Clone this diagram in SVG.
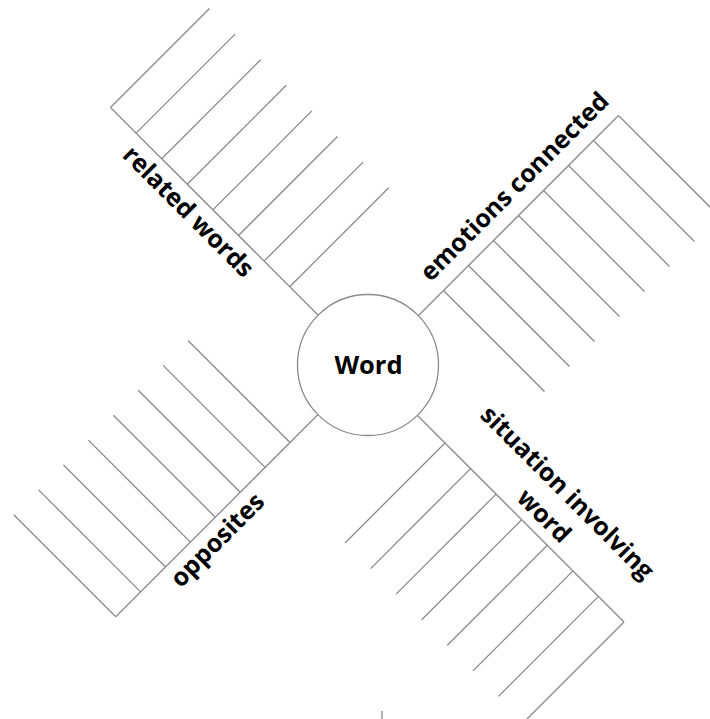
<svg xmlns="http://www.w3.org/2000/svg" width="710" height="719" viewBox="0 0 710 719">
<style>
.ln{stroke:#8a8a8a;stroke-width:1.3;fill:none;stroke-linecap:butt}
.lbl{font-family:"Open Sans","Liberation Sans",sans-serif;font-weight:bold;font-size:25px;fill:#000;text-anchor:middle}
.ctr{font-family:"Open Sans","Liberation Sans",sans-serif;font-weight:bold;font-size:25.5px;fill:#000;text-anchor:middle}
</style>
<rect width="710" height="719" fill="#fff"/>
<g id="connectors">
<g id="branch-related">
<line class="ln" x1="110.5" y1="107.5" x2="318" y2="315"/>
<line class="ln" x1="110.5" y1="107.5" x2="209.5" y2="8.5"/>
<line class="ln" x1="136.1" y1="133.1" x2="235.1" y2="34.1"/>
<line class="ln" x1="161.7" y1="158.7" x2="260.7" y2="59.7"/>
<line class="ln" x1="187.3" y1="184.3" x2="286.3" y2="85.3"/>
<line class="ln" x1="212.9" y1="209.9" x2="311.9" y2="110.9"/>
<line class="ln" x1="238.5" y1="235.5" x2="337.5" y2="136.5"/>
<line class="ln" x1="264.1" y1="261.1" x2="363.1" y2="162.1"/>
<line class="ln" x1="289.7" y1="286.7" x2="388.7" y2="187.7"/>
</g>
<g id="branch-emotions">
<line class="ln" x1="418" y1="316" x2="618.5" y2="115.5"/>
<line class="ln" x1="443.5" y1="290.5" x2="544.5" y2="391.5"/>
<line class="ln" x1="468.5" y1="265.5" x2="569.5" y2="366.5"/>
<line class="ln" x1="493.5" y1="240.5" x2="594.5" y2="341.5"/>
<line class="ln" x1="518.5" y1="215.5" x2="619.5" y2="316.5"/>
<line class="ln" x1="543.5" y1="190.5" x2="644.5" y2="291.5"/>
<line class="ln" x1="568.5" y1="165.5" x2="669.5" y2="266.5"/>
<line class="ln" x1="593.5" y1="140.5" x2="694.5" y2="241.5"/>
<line class="ln" x1="618.5" y1="115.5" x2="719.5" y2="216.5"/>
</g>
<g id="branch-opposites">
<line class="ln" x1="318" y1="414.5" x2="115.7" y2="616.8"/>
<line class="ln" x1="290" y1="442.5" x2="188" y2="340.5"/>
<line class="ln" x1="265.1" y1="467.4" x2="163.1" y2="365.4"/>
<line class="ln" x1="240.2" y1="492.3" x2="138.2" y2="390.3"/>
<line class="ln" x1="215.3" y1="517.2" x2="113.3" y2="415.2"/>
<line class="ln" x1="190.4" y1="542.1" x2="88.4" y2="440.1"/>
<line class="ln" x1="165.5" y1="567" x2="63.5" y2="465"/>
<line class="ln" x1="140.6" y1="591.9" x2="38.6" y2="489.9"/>
<line class="ln" x1="115.7" y1="616.8" x2="13.7" y2="514.8"/>
</g>
<g id="branch-situation">
<line class="ln" x1="417.5" y1="415.5" x2="624" y2="622"/>
<line class="ln" x1="445" y1="443" x2="345" y2="543"/>
<line class="ln" x1="470.6" y1="468.6" x2="370.6" y2="568.6"/>
<line class="ln" x1="496.1" y1="494.1" x2="396.1" y2="594.1"/>
<line class="ln" x1="521.7" y1="519.7" x2="421.7" y2="619.7"/>
<line class="ln" x1="547.3" y1="545.3" x2="447.3" y2="645.3"/>
<line class="ln" x1="572.9" y1="570.9" x2="472.9" y2="670.9"/>
<line class="ln" x1="598.4" y1="596.4" x2="498.4" y2="696.4"/>
<line class="ln" x1="624" y1="622" x2="524" y2="722"/>
</g>
<line class="ln" x1="382" y1="711" x2="382" y2="719"/>
</g>
<g id="node-word">
<circle cx="368" cy="365" r="70.5" fill="#fff" stroke="#8a8a8a" stroke-width="1.3"/>
<text class="ctr" x="368.5" y="373.5">Word</text>
</g>
<g id="label-related">
<text class="lbl" transform="translate(182.4,217.6) rotate(45)">related words</text>
</g>
<g id="label-emotions">
<text class="lbl" transform="translate(520.5,192.5) rotate(-45)">emotions connected</text>
</g>
<g id="label-opposites">
<text class="lbl" transform="translate(223.3,546) rotate(-45)">opposites</text>
</g>
<g id="label-situation">
<text class="lbl" transform="translate(538.1,521.9) rotate(45)"><tspan x="0" y="-33">situation involving</tspan><tspan x="0" y="0">word</tspan></text>
</g>
</svg>
